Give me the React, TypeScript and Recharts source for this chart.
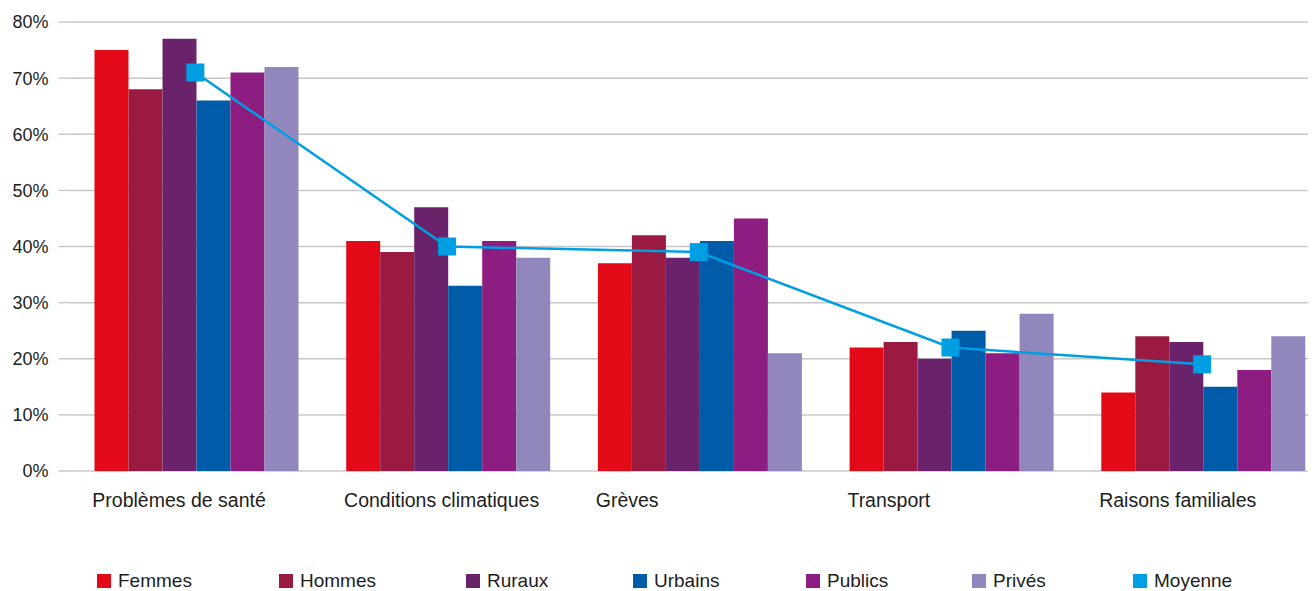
import {
  ComposedChart,
  Bar,
  Line,
  XAxis,
  YAxis,
  CartesianGrid,
  Legend,
} from 'recharts';

const CATEGORIES = [
  'Problèmes de santé',
  'Conditions climatiques',
  'Grèves',
  'Transport',
  'Raisons familiales',
];

const FEMMES = [75, 41, 37, 22, 14];
const HOMMES = [68, 39, 42, 23, 24];
const RURAUX = [77, 47, 38, 20, 23];
const URBAINS = [66, 33, 41, 25, 15];
const PUBLICS = [71, 41, 45, 21, 18];
const PRIVES = [72, 38, 21, 28, 24];
const MOYENNE = [71, 40, 39, 22, 19];

const Y_TICKS = [0, 10, 20, 30, 40, 50, 60, 70, 80];

const SERIES = [
  { key: 'Femmes', values: FEMMES, color: '#E30A17' },
  { key: 'Hommes', values: HOMMES, color: '#9B1A42' },
  { key: 'Ruraux', values: RURAUX, color: '#6A236B' },
  { key: 'Urbains', values: URBAINS, color: '#005CA9' },
  { key: 'Publics', values: PUBLICS, color: '#8D1D80' },
  { key: 'Privés', values: PRIVES, color: '#9187BD' },
];
const LINE_COLOR = '#009FE3';

// legend squares sit at fixed x positions in the original
const LEGEND_ITEMS = [
  ...SERIES.map((s) => ({ label: s.key, color: s.color })),
  { label: 'Moyenne', color: LINE_COLOR },
];
const LEGEND_X = [97, 279, 466, 633, 806, 972, 1133];

const FONT = '"Liberation Sans", Arial, sans-serif';
const TEXT = '#1d1d1b';
const GRID = '#c8c8c8';

const chartData = CATEGORIES.map((name, i) => {
  const row: Record<string, string | number> = { name };
  SERIES.forEach((s) => {
    row[s.key] = s.values[i];
  });
  row.Moyenne = MOYENNE[i];
  return row;
});

function CategoryTick(props: any) {
  const { x, y, payload } = props;
  return (
    <text
      x={x - 103}
      y={y + 36}
      textAnchor="start"
      fill={TEXT}
      fontSize={19.5}
      fontFamily={FONT}
    >
      {payload.value}
    </text>
  );
}

function SquareDot(props: any) {
  const { cx, cy } = props;
  if (cx == null || cy == null) return null;
  return <rect x={cx - 9} y={cy - 9} width={18} height={18} fill={LINE_COLOR} />;
}

function CustomLegend() {
  return (
    <div style={{ position: 'relative', height: 20, width: 1316 }}>
      {LEGEND_ITEMS.map((item, i) => (
        <div
          key={item.label}
          style={{
            position: 'absolute',
            left: LEGEND_X[i],
            top: 0,
            height: 20,
            display: 'flex',
            alignItems: 'center',
            gap: 7,
            fontFamily: FONT,
            fontSize: 19,
            color: TEXT,
            whiteSpace: 'nowrap',
          }}
        >
          <span
            style={{
              display: 'inline-block',
              width: 14,
              height: 14,
              background: item.color,
            }}
          />
          <span>{item.label}</span>
        </div>
      ))}
    </div>
  );
}

export default function App() {
  return (
    <div
      style={{
        marginLeft: -8,
        marginTop: -8,
        width: 1316,
        height: 591,
        overflow: 'hidden',
        position: 'relative',
        background: '#fff',
      }}
    >
      <ComposedChart
        width={1328}
        height={591}
        data={chartData}
        margin={{ top: 22, right: 0, bottom: 0, left: 0 }}
        barGap={0}
        barCategoryGap={25}
      >
        <CartesianGrid
          vertical={false}
          stroke={GRID}
          strokeWidth={1.5}
        />
        <XAxis
          dataKey="name"
          axisLine={false}
          tickLine={false}
          tickSize={0}
          tickMargin={0}
          height={100}
          interval={0}
          tick={<CategoryTick />}
        />
        <YAxis
          width={69.5}
          domain={[0, 80]}
          ticks={Y_TICKS}
          axisLine={false}
          tickLine={{ stroke: GRID, strokeWidth: 1.5 }}
          tickSize={11}
          tickMargin={10}
          tickFormatter={(v: number) => `${v}%`}
          tick={{ fill: TEXT, fontSize: 18, fontFamily: FONT }}
        />
        <Legend
          verticalAlign="bottom"
          align="left"
          content={<CustomLegend />}
          wrapperStyle={{ left: 0, width: 1316 }}
        />
        {SERIES.map((s) => (
          <Bar
            key={s.key}
            dataKey={s.key}
            fill={s.color}
            isAnimationActive={false}
          />
        ))}
        <Line
          dataKey="Moyenne"
          stroke={LINE_COLOR}
          strokeWidth={2.5}
          dot={<SquareDot />}
          activeDot={false}
          isAnimationActive={false}
        />
      </ComposedChart>
    </div>
  );
}
